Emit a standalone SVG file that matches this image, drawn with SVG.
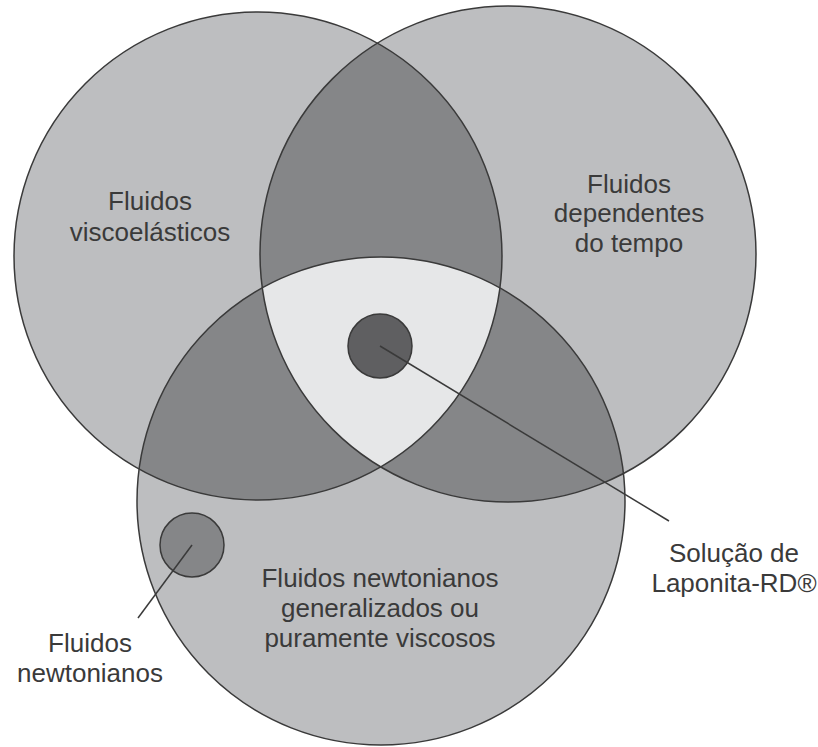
<svg xmlns="http://www.w3.org/2000/svg" width="818" height="747" viewBox="0 0 818 747">
<style>
.base{fill:#bdbec0}
.dark{fill:#858688}
.light{fill:#e6e7e8}
.ol{fill:none;stroke:#3a3a3a;stroke-width:1.5}
.lbl{font-family:"Liberation Sans",Arial,sans-serif;font-size:26px;fill:#3a3a3a;text-anchor:middle}
.con{stroke:#3a3a3a;stroke-width:1.5;fill:none}
</style>
<defs>
<clipPath id="cA"><circle cx="258" cy="256" r="244"/></clipPath>
<clipPath id="cB"><circle cx="508" cy="254" r="248"/></clipPath>
<clipPath id="cC"><circle cx="381" cy="501" r="244"/></clipPath>
</defs>
<rect width="818" height="747" fill="#ffffff"/>
<g id="fills">
<circle class="base" cx="258" cy="256" r="244"/>
<circle class="base" cx="508" cy="254" r="248"/>
<circle class="base" cx="381" cy="501" r="244"/>
<g clip-path="url(#cB)"><circle class="dark" cx="258" cy="256" r="244"/></g>
<g clip-path="url(#cC)"><circle class="dark" cx="258" cy="256" r="244"/><circle class="dark" cx="508" cy="254" r="248"/></g>
<g clip-path="url(#cC)"><g clip-path="url(#cB)"><circle class="light" cx="258" cy="256" r="244"/></g></g>
</g>
<g id="viscoelasticos">
<circle class="ol" cx="258" cy="256" r="244"/>
<text class="lbl" x="150" y="210">Fluidos</text>
<text class="lbl" x="150" y="241">viscoelásticos</text>
</g>
<g id="dependentes">
<circle class="ol" cx="508" cy="254" r="248"/>
<text class="lbl" x="629" y="193">Fluidos</text>
<text class="lbl" x="629" y="222">dependentes</text>
<text class="lbl" x="629" y="252">do tempo</text>
</g>
<g id="generalizados">
<circle class="ol" cx="381" cy="501" r="244"/>
<text class="lbl" x="380" y="587">Fluidos newtonianos</text>
<text class="lbl" x="380" y="617">generalizados ou</text>
<text class="lbl" x="380" y="647">puramente viscosos</text>
</g>
<g id="laponita">
<circle cx="380" cy="346" r="32" fill="#5f5f61" stroke="#3a3a3a" stroke-width="1.5"/>
<text class="lbl" x="734" y="562">Solução de</text>
<text class="lbl" x="734" y="592">Laponita-RD®</text>
</g>
<g id="newtonianos">
<circle cx="192" cy="545" r="32" fill="#858688" stroke="#3a3a3a" stroke-width="1.5"/>
<text class="lbl" x="90" y="652">Fluidos</text>
<text class="lbl" x="90" y="682">newtonianos</text>
</g>
<g id="connectors">
<line class="con" x1="380" y1="346" x2="669" y2="521"/>
<line class="con" x1="192" y1="545" x2="138" y2="618"/>
</g>
</svg>
